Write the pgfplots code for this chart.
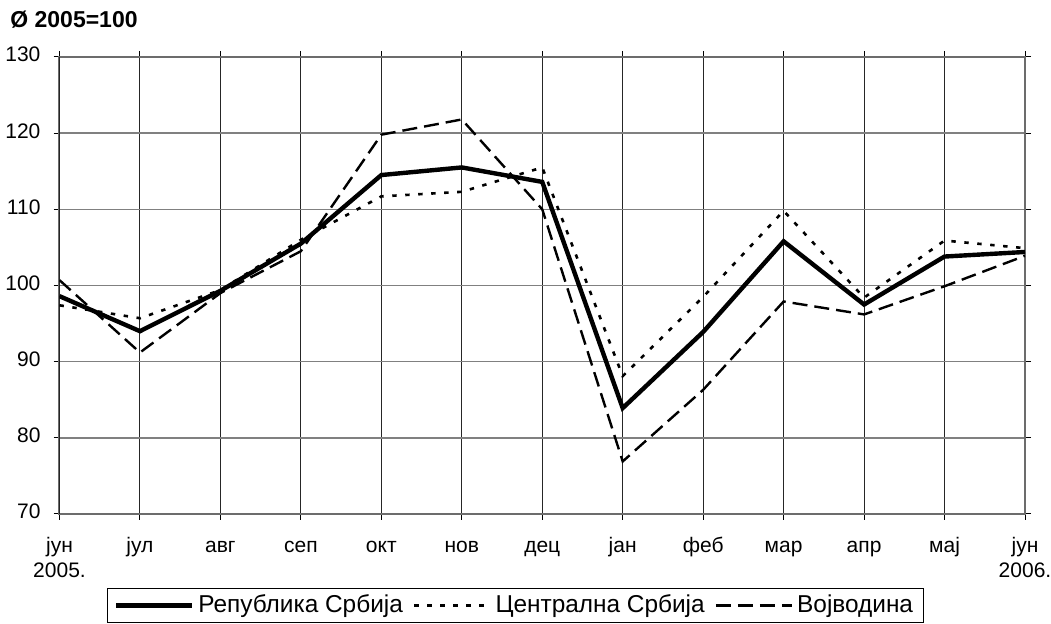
\documentclass[border=0pt]{standalone}
\usepackage{pgfplots}
\pgfplotsset{compat=1.18}
\usepackage{fontspec}
\setmainfont{Liberation Sans}
\begin{document}
\begin{tikzpicture}
\useasboundingbox (0,0) rectangle (525.5pt,312pt);
\node[anchor=west,font=\fontsize{11.5}{13}\selectfont\bfseries,inner sep=0pt] at (5pt,302pt) {Ø 2005=100};
\begin{axis}[
  at={(29.75pt,55pt)}, anchor=south west,
  scale only axis, width=482.75pt, height=228.5pt,
  xmin=0, xmax=12, ymin=70, ymax=130,
  xtick={0,...,12}, ytick={70,80,...,130},
  xticklabels={{јун\\2005.},јул,авг,сеп,окт,нов,дец,јан,феб,мар,апр,мај,{јун\\2006.}},
  typeset ticklabels with strut,
  xticklabel style={align=center, font=\fontsize{10.5}{12.5}\selectfont, yshift=-4pt},
  yticklabel style={font=\fontsize{10.5}{12.5}\selectfont, xshift=-3pt},
  /pgf/number format/assume math mode=true,
  tick align=outside, major tick length=3pt,
  tick style={black, line width=0.5pt},
  grid=major,
  x grid style={black!85, line width=0.5pt},
  y grid style={gray, line width=0.7pt},
  axis line style={gray!85!black, line width=1pt},
  legend columns=3,
  legend style={at={(0.4723,-0.2002)}, anchor=center, draw=black, line width=0.5pt,
    font=\fontsize{12.2}{14}\selectfont, inner xsep=3pt, inner ysep=1.5pt,
    /tikz/every even column/.append style={column sep=3pt}},
  legend image code/.code={\draw[#1] (0pt,0pt) -- (38pt,0pt);},
]
\addplot[black, line width=2.2pt] coordinates {
(0,98.6) (1,94.0) (2,99.3) (3,105.5) (4,114.5) (5,115.5) (6,113.6) (7,83.9) (8,93.9) (9,105.8) (10,97.5) (11,103.8) (12,104.4)};
\addlegendentry{Република Србија}
\addplot[black, line width=1.3pt, dash pattern=on 2.2pt off 4.3pt] coordinates {
(0,97.4) (1,95.7) (2,99.4) (3,106.0) (4,111.7) (5,112.3) (6,115.5) (7,88.1) (8,98.5) (9,109.8) (10,98.4) (11,105.9) (12,104.9)};
\addlegendentry{Централна Србија}
\addplot[black, line width=1.2pt, dash pattern=on 7.5pt off 3.5pt] coordinates {
(0,100.7) (1,91.2) (2,99.0) (3,104.5) (4,119.8) (5,121.8) (6,110.0) (7,76.9) (8,86.3) (9,97.9) (10,96.2) (11,99.9) (12,103.9)};
\addlegendentry{Војводина}
\draw[black, line width=0.7pt] (rel axis cs:0,0) -- (rel axis cs:0,1);
\end{axis}
\end{tikzpicture}
\end{document}
